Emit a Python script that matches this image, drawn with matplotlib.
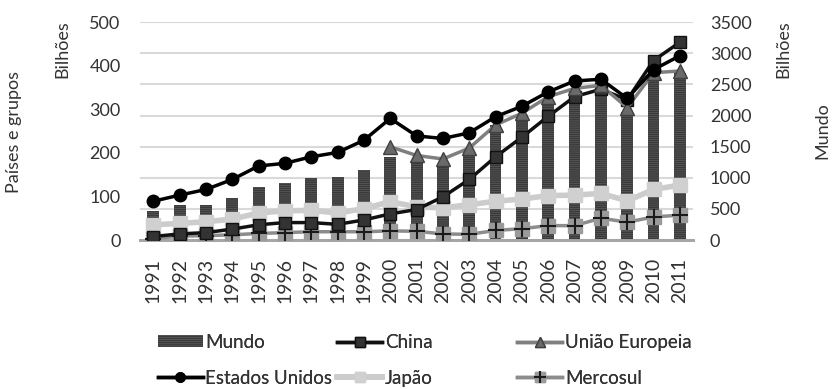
import numpy as np
import matplotlib
matplotlib.use('Agg')
import matplotlib.pyplot as plt
from matplotlib.legend_handler import HandlerTuple

plt.rcParams['font.family'] = ['Lato', 'DejaVu Sans']

anos = [str(a) for a in range(1991, 2012)]

# Mundo (eixo da direita), bilhões
mundo = [470, 562, 570, 675, 845, 920, 990, 1015, 1125, 1337, 1265, 1205, 1415,
         1850, 2010, 2220, 2385, 2465, 2060, 2640, 2690]

# países e grupos (eixo da esquerda), bilhões
eua = [89, 103, 116, 139, 170, 176, 191, 201, 229, 279, 239, 233, 246,
       283, 307, 340, 365, 369, 325, 391, 423]
china = [8, 14, 17, 25, 35, 40, 40, 36, 46, 60, 70, 99, 139,
         191, 236, 284, 329, 346, 322, 412, 454]
ue = [None] * 9 + [214, 194, 186, 211, 264, 291, 329, 348, 355, 304, 384, 388]
japao = [35, 38, 42, 48, 62, 67, 68, 62, 72, 88, 76, 74, 81,
         89, 94, 102, 103, 107, 90, 116, 126]
mercosul = [3, 9, 10, 12, 15, 17, 19, 19, 19, 21, 20, 14, 13,
            22, 26, 33, 33, 50, 41, 53, 57]

x = np.arange(len(anos))
ue = np.array([np.nan if v is None else v for v in ue], dtype=float)

fig = plt.figure(figsize=(8.34, 3.89), dpi=100)
ax2 = fig.add_axes([0.168, 0.383, 0.663, 0.560])
ax = ax2.twinx()

txt = '#333333'

# barras do mundo, atrás das linhas
ax2.set_axisbelow(True)
ax2.yaxis.grid(True, color='#d9d9d9', linewidth=1.5)
barras = ax2.bar(x, mundo, width=0.45, color='#5c5c5c', edgecolor='#3a3a3a',
                 linewidth=0, hatch='--------', label='Mundo', zorder=2)
ax2.set_ylim(0, 3500)
ax2.set_yticks(range(0, 3501, 500))
ax2.yaxis.tick_right()

ax.set_ylim(0, 500)
ax.set_yticks(range(0, 501, 100))
ax.yaxis.tick_left()

l_jp, = ax.plot(x, japao, color='#cccccc', lw=4, marker='s', ms=10,
                mfc='#d0d0d0', mec='#d0d0d0', label='Japão', zorder=3)
l_me, = ax.plot(x, mercosul, color='#8c8c8c', lw=2.5, marker='s', ms=10,
                mfc='#9a9a9a', mec='#9a9a9a', zorder=3)
l_mp, = ax.plot(x, mercosul, ls='none', marker='+', ms=11, mew=1.5,
                color='#1a1a1a', zorder=4)
l_cn, = ax.plot(x, china, color='#111111', lw=2.5, marker='s', ms=9,
                mfc='#333333', mec='#111111', label='China', zorder=5)
l_ue, = ax.plot(x, ue, color='#7f7f7f', lw=2.5, marker='^', ms=10,
                mfc='#6a6a6a', mec='#404040', label='União Europeia', zorder=6)
l_us, = ax.plot(x, eua, color='#000000', lw=2.5, marker='o', ms=9,
                mfc='#000000', mec='#000000', label='Estados Unidos', zorder=7)

ax.set_xlim(-0.5, len(anos) - 0.5)
ax.set_xticks(x)
ax2.set_xticklabels(anos, rotation=90)

for a in (ax, ax2):
    for s in ('top', 'left', 'right'):
        a.spines[s].set_visible(False)
    a.spines['bottom'].set_color('#a6a6a6')
    a.spines['bottom'].set_linewidth(2)
    a.tick_params(length=0, colors=txt, labelsize=13)
ax.tick_params(axis='y', pad=14)
ax2.tick_params(axis='y', pad=12)
ax2.tick_params(axis='x', pad=13, labelsize=14)

fig.text(0.075, 0.875, 'Bilhões', rotation=90, ha='center', va='center',
         fontsize=13, color=txt)
fig.text(0.017, 0.66, 'Países e grupos', rotation=90, ha='center', va='center',
         fontsize=13, color=txt)
fig.text(0.939, 0.875, 'Bilhões', rotation=90, ha='center', va='center',
         fontsize=13, color=txt)
fig.text(0.986, 0.665, 'Mundo', rotation=90, ha='center', va='center',
         fontsize=13, color=txt)

# legenda em três colunas de largura igual
colunas = [
    ([barras, l_us], ['Mundo', 'Estados Unidos']),
    ([l_cn, l_jp], ['China', 'Japão']),
    ([l_ue, (l_me, l_mp)], ['União Europeia', 'Mercosul']),
]
for i, (hs, ls) in enumerate(colunas):
    leg = fig.legend(hs, ls, loc='center left',
                     bbox_to_anchor=(0.189 + i * 0.2155, 0.074),
                     frameon=False, fontsize=13.5, handlelength=2.4,
                     handleheight=0.6, handletextpad=0.15, borderpad=0,
                     borderaxespad=0, labelspacing=1.0, markerscale=0.75,
                     labelcolor=txt,
                     handler_map={tuple: HandlerTuple(ndivide=1)})
    fig.add_artist(leg)

fig.savefig('out.png', dpi=100)
